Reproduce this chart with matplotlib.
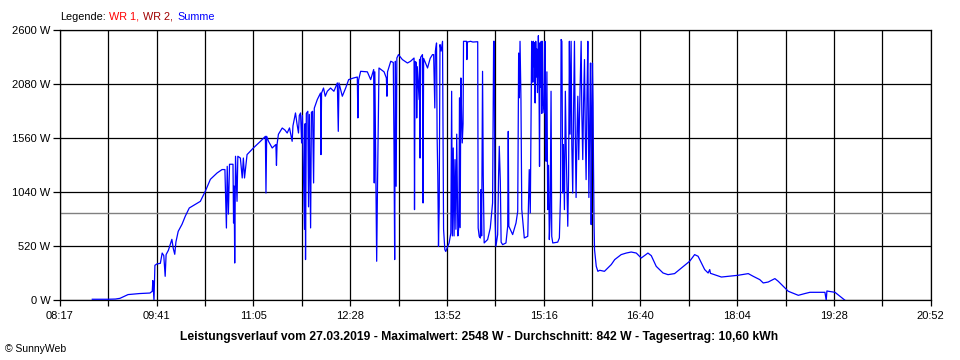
import matplotlib
matplotlib.use("Agg")
import matplotlib.pyplot as plt
import numpy as np

plt.rcParams["font.family"] = ["Liberation Sans", "DejaVu Sans"]

# x axis in minutes after midnight (08:17 .. 20:52)
t_start, t_end = 497, 1252
tick_labels = ["08:17", "09:41", "11:05", "12:28", "13:52",
               "15:16", "16:40", "18:04", "19:28", "20:52"]
y_ticks = [0, 520, 1040, 1560, 2080, 2600]
avg_w = 842

# Summe (minutes, W)
t_morning = [525, 538, 545, 549, 556, 566, 575, 577, 577.5, 578,
             578.5, 579.3, 581, 584, 585.6, 587, 588.2, 589, 591, 594,
             595.2, 596.5, 597.5, 599.5, 602.8, 605.6, 609.1, 614.3, 618.7, 623,
             627.4, 633.2, 637.5, 640]
w_morning = [10, 10, 12, 19, 55, 65, 70, 87, 190, 100,
             0, 337, 350, 356, 455, 430, 231, 440, 482, 587,
             500, 443, 560, 664, 732, 809, 889, 924, 953, 1050,
             1165, 1226, 1259, 1259]

t_late_morning = [641.3, 642, 643, 644, 646, 647, 647.5, 648, 648.5, 649.2,
                  650.5, 651.2, 653.4, 655, 656, 657, 659.2, 664.7, 670.8, 675.1,
                  675.6, 676.2, 677.8, 681, 684.2, 684.7, 685.2, 686.4, 689.7, 692,
                  694, 696, 698.3, 699, 701.2, 702.5, 703.8, 704.5]
w_late_morning = [696, 1290, 830, 1310, 1310, 1310, 744, 1100, 359, 1387,
                  953, 1387, 1370, 1178, 1370, 1178, 1403, 1467, 1531, 1579,
                  1033, 1579, 1531, 1467, 1500, 1300, 1500, 1599, 1659, 1640,
                  1611, 1660, 1531, 1680, 1804, 1700, 1611, 1780]

t_noon = [705.6, 706.5, 707.2, 709, 709.5, 709.9, 710.6, 711.9, 712.5, 713.2,
          714.3, 715, 716, 716.9, 717.5, 720.1, 722.9, 723.3, 723.8, 725.5,
          727, 728.8, 731.6, 734.5, 737.5, 738.3, 738.9, 741.8, 744.7, 747.3,
          751.6, 754.8, 755.3, 755.9, 757.7, 763.5, 766.4, 769, 769.5, 770,
          771, 771.6, 772.3, 773.6, 778, 780, 780.5, 781, 783.8, 786,
          786.6, 787.2, 787.8, 788.5, 789.1, 790.5, 793.9, 798.3, 801, 804,
          804.4, 804.9, 806, 806.3, 806.8, 808.4, 808.8, 809.2, 809.7, 811.3,
          811.8, 812.3, 815.7, 818, 820, 821, 822, 822.5, 823.5, 824,
          824.6, 825.2, 825.8, 826.5, 827.5, 828.7, 829.6, 830.7, 831.5, 834.4]
w_noon = [1804, 1515, 1780, 684, 1700, 392, 1800, 1820, 900, 1790,
          697, 1810, 1820, 1130, 1850, 1933, 1996, 1403, 1996, 2044,
          1965, 2013, 2044, 2013, 2093, 1627, 2093, 1965, 2044, 2125,
          2141, 2150, 1756, 2120, 2205, 2200, 2125, 2222, 1130, 2200,
          1100, 376, 1100, 2237, 2200, 2141, 1965, 2200, 2302, 2290,
          1500, 392, 2302, 1098, 2333, 2366, 2318, 2285, 2302, 2333,
          873, 2300, 2290, 1756, 2250, 1933, 2320, 1370, 2340, 2366,
          937, 2330, 2237, 2330, 2366, 2366, 1852, 2400, 2478, 1579,
          1200, 520, 900, 2462, 2400, 2494, 684, 488, 470, 552]

t_afternoon = [835.9, 836.6, 837.2, 838, 838.7, 839.5, 840.3, 841, 842, 842.9,
               843.4, 844, 844.6, 845.2, 845.8, 846.5, 846.9, 849.5, 849.8, 850.2,
               853, 855, 859.2, 859.6, 860.5, 861.5, 862, 862.6, 863.4, 864,
               864.8, 867.8, 870.1, 872.1, 873, 873.5, 874.2, 875, 876.5, 877.3,
               877.9, 878.8, 879.5, 880.8, 883.7, 885.2, 885.7, 886.2, 889.5, 892.4,
               893.9, 894.7, 895.3, 895.9, 896.7, 897.4, 899.6, 902.6, 903.9, 904.8,
               905.4, 906, 906.5, 907, 907.5, 908, 908.5, 909, 909.5, 910,
               910.5, 911, 911.8, 912.3, 912.8, 913.3, 913.8, 914.3, 914.8, 915.3,
               916, 917, 917.5, 918, 918.5, 919.2, 919.9, 920.6, 921.3, 922,
               922.8, 923.4, 924.3, 928.6, 930, 931, 931.5, 932.2, 932.9, 933.5,
               934.4, 935.2, 936, 937.3, 938, 938.7, 939.3, 940.2, 940.8, 941.6,
               942.3, 943.1, 943.7, 944.5, 945.3, 946, 946.8, 947.5, 948.9, 949.5,
               950.3, 951, 951.8, 952.5, 953.2, 954, 954.7, 955.2, 955.6, 956.3,
               957, 957.6, 958.2, 958.7, 959.2, 959.6, 960.1]
w_afternoon = [648, 2013, 620, 1467, 620, 1355, 684, 1600, 620, 713,
               1950, 700, 2141, 1800, 1515, 1700, 2494, 2494, 2318, 2487,
               2494, 2487, 2490, 696, 616, 600, 1066, 620, 2205, 1200,
               552, 585, 696, 937, 2494, 2494, 800, 520, 633, 1200,
               1483, 1150, 560, 536, 552, 713, 1627, 713, 633, 744,
               857, 2381, 1950, 2494, 1936, 876, 600, 616, 1259, 841,
               1611, 2494, 2450, 2100, 2494, 2250, 2480, 1900, 2494, 2150,
               2420, 2000, 2548, 2200, 1290, 2480, 2050, 2494, 1800, 2494,
               1900, 1804, 2494, 1500, 1339, 2200, 873, 1300, 585, 800,
               2013, 616, 552, 560, 600, 1000, 2511, 2494, 1033, 1500,
               873, 2013, 1400, 713, 1200, 2494, 1600, 2494, 1500, 1033,
               1800, 2494, 1700, 990, 1600, 1965, 1355, 1800, 2494, 1800,
               1355, 1900, 2318, 1600, 1162, 2000, 2494, 1600, 990, 1700,
               2285, 729, 1800, 2285, 1900, 1300, 729]

t_evening = [960.5, 962, 963.4, 965, 969.1, 975, 978, 983.6, 988, 992.3,
             996.7, 1001, 1006.8, 1009.7, 1014, 1019.9, 1024.2, 1029.9, 1035.8, 1043,
             1047.3, 1050.3, 1053.2, 1056, 1059, 1060.4, 1061, 1070.5, 1076.4, 1085,
             1093.8, 1098.1, 1103.8, 1106.8, 1111.1, 1116.9, 1119.8, 1124.1, 1128.5, 1137.2,
             1142.9, 1147.3, 1160.3, 1161.4, 1162, 1163.3, 1169, 1173.3, 1177.7]
w_evening = [488, 327, 279, 289, 279, 344, 392, 440, 455, 465,
             455, 407, 455, 430, 327, 263, 247, 257, 311, 376,
             440, 424, 359, 296, 263, 296, 260, 224, 231, 241,
             257, 231, 199, 167, 176, 209, 183, 135, 87, 48,
             65, 77, 77, 0, 90, 87, 77, 39, 0]

t = np.concatenate([t_morning, t_late_morning, t_noon, t_afternoon, t_evening])
w = np.concatenate([w_morning, w_late_morning, w_noon, w_afternoon, w_evening])

fig = plt.figure(figsize=(9.6, 3.6), dpi=100)
ax = fig.add_axes([60 / 960, 1 - 300.3 / 360, 870.7 / 960, 270 / 360])

ax.plot(t, w, color="#0000ff", lw=0.9, zorder=3)
ax.axhline(avg_w, color="#808080", lw=1.0, zorder=2)

ax.set_xlim(t_start, t_end)
ax.set_ylim(0, 2600)
xt = np.linspace(t_start, t_end, 19)
ax.set_xticks(xt)
ax.set_xticklabels([tick_labels[i // 2] if i % 2 == 0 else "" for i in range(19)])
ax.set_yticks(y_ticks)
ax.set_yticklabels([f"{v} W" for v in y_ticks])
ax.grid(True, color="black", lw=0.9, zorder=1)
ax.tick_params(axis="y", length=5, width=0.9, labelsize=8, pad=2)
ax.tick_params(axis="x", length=4, width=0.9, labelsize=8, pad=4)
for s in ax.spines.values():
    s.set_linewidth(0.9)

# legend line on top
y_leg = 1 - 16.5 / 360
fig.text(60 / 960, y_leg, "Legende:", fontsize=7.8, va="center")
fig.text(109 / 960, y_leg, "WR 1,", fontsize=7.8, va="center", color="#ff0000")
fig.text(143 / 960, y_leg, "WR 2,", fontsize=7.8, va="center", color="#a00000")
fig.text(177 / 960, y_leg, "Summe", fontsize=7.8, va="center", color="#0000ff")

fig.text(479 / 960, 1 - 336.7 / 360,
         "Leistungsverlauf vom 27.03.2019 - Maximalwert: 2548 W - "
         "Durchschnitt: 842 W - Tagesertrag: 10,60 kWh",
         fontsize=8.7, fontweight="bold", ha="center", va="center")
fig.text(5 / 960, 1 - 348.5 / 360, "© SunnyWeb", fontsize=7.5, va="center")

fig.savefig("out.png", dpi=100)
